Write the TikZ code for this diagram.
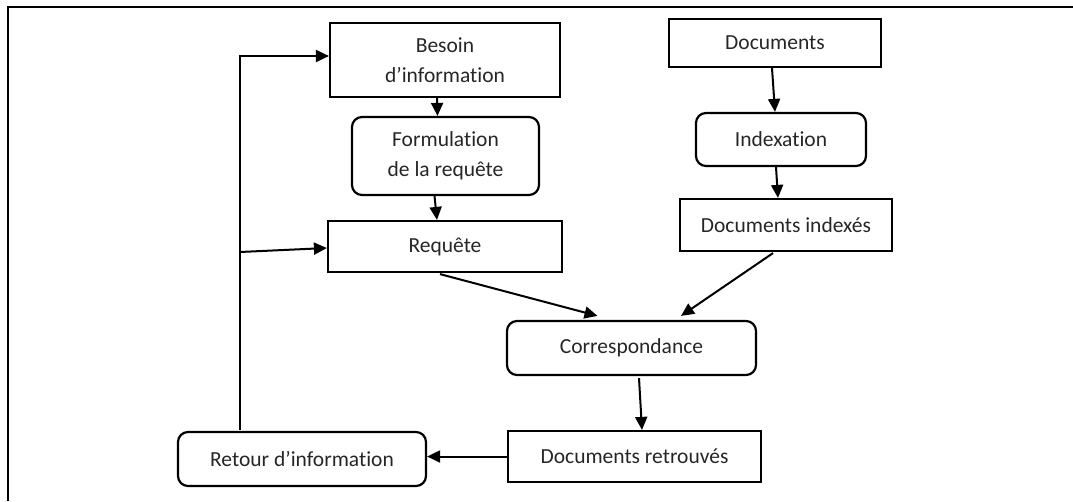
\documentclass[tikz,border=0pt]{standalone}
\usepackage{fontspec}
\setmainfont{Carlito}[Ligatures={NoCommon}]
\usetikzlibrary{arrows.meta,calc}
\begin{document}
\begin{tikzpicture}[x=1pt,y=-1pt,
  box/.style={draw=black, line width=2.2pt, inner sep=0pt, align=center,
    text=black!85, font=\fontsize{21.5}{29.5}\selectfont},
  rbox/.style={box, rounded corners=10pt},
  arr/.style={line width=2pt, -{Triangle[length=13pt,width=12pt]}},
  frame/.style={line width=2.4pt}]
\useasboundingbox (0,0) rectangle (1073,501);
% partial frame around the figure
\draw[frame] (8,501) -- (8,7) -- (1073,7);

% left column: user side
\node[box, minimum width=230pt, minimum height=74pt] (besoin) at (445,60) {Besoin\\d’information};
\node[rbox, minimum width=187pt, minimum height=78pt] (formul) at (445.5,156) {Formulation\\de la requête};
\node[box, minimum width=234pt, minimum height=51pt] (requete) at (445,246.5) {Requête};

% right column: document side
\node[box, minimum width=212pt, minimum height=48pt] (docs) at (775,43) {Documents};
\node[rbox, minimum width=170pt, minimum height=53pt] (index) at (781,139.5) {Indexation};
\node[box, minimum width=212pt, minimum height=52pt] (docidx) at (786,225) {Documents indexés};

% matching and results
\node[rbox, minimum width=249pt, minimum height=54pt] (corr) at (631.5,348) {Correspondance};
\node[box, minimum width=253pt, minimum height=51pt] (retr) at (634.5,456.5) {Documents retrouvés};
\node[rbox, minimum width=248pt, minimum height=54pt] (retour) at (302,459) {Retour d’information};

% flow arrows
\draw[arr] ($(besoin.south)+(-8,0)$) -- ($(formul.north)+(-8,0)$);
\draw[arr] ($(formul.south)+(-11,0)$) -- ($(requete.north)+(-8,0)$);
\draw[arr] ($(docs.south)+(-3,0)$) -- ($(index.north)+(-6,0)$);
\draw[arr] ($(index.south)+(-5,0)$) -- ($(docidx.north)+(-8,0)$);
\draw[arr] ($(requete.south)+(-5,1)$) -- ($(corr.north)+(-34,-4)$);
\draw[arr] ($(docidx.south)+(-13,1)$) -- ($(corr.north)+(49.5,-4)$);
\draw[arr] ($(corr.south)+(7.5,2)$) -- ($(retr.north)+(7.5,0)$);
\draw[arr] (retr.west) -- (retr.west -| retour.east);

% feedback loop
\coordinate (fb) at ($(retour.north)+(-62,-1)$);
\draw[arr] (fb) |- ($(besoin.west)+(0,-4)$);
\coordinate (fbr) at (fb |- 0,252);
\draw[arr] (fbr) -- ($(requete.west)+(0,1.5)$);
\end{tikzpicture}
\end{document}
